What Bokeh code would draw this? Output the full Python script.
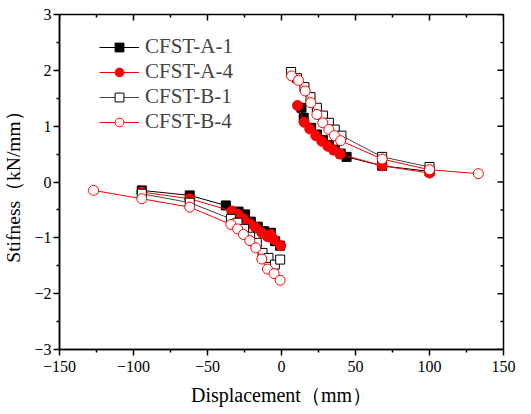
from bokeh.plotting import figure
from bokeh.models import Legend, LegendItem, Range1d, FixedTicker
from bokeh.embed import file_html
from bokeh.resources import INLINE

# ---- data ----
a1_neg_x = [-94.4, -62, -37.6, -29, -24.6, -20.7, -16, -11.7, -7.2, -4.3, -1]
a1_neg_y = [-0.15, -0.24, -0.42, -0.53, -0.58, -0.71, -0.80, -0.88, -0.91, -1.06, -1.14]
a1_pos_x = [13.5, 15, 20, 24, 28, 32, 36, 40, 44, 68, 100]
a1_pos_y = [1.33, 1.15, 0.97, 0.85, 0.75, 0.66, 0.58, 0.51, 0.45, 0.29, 0.19]

a4_neg_x = [-94.4, -62, -33.6, -29.3, -25.7, -21.2, -17.4, -13.3, -9.5, -7.2, -5, -0.5]
a4_neg_y = [-0.18, -0.30, -0.52, -0.58, -0.66, -0.75, -0.82, -0.91, -0.98, -0.94, -1.03, -1.14]
a4_pos_x = [10.8, 15.3, 19.1, 23.2, 27.2, 31.3, 35.3, 39.6, 68, 100]
a4_pos_y = [1.37, 1.07, 0.95, 0.83, 0.73, 0.64, 0.57, 0.50, 0.29, 0.16]

b1_neg_x = [-94.4, -62, -34.2, -29.7, -25.3, -21.2, -16.7, -12.8, -8.8, -4.5, -0.9]
b1_neg_y = [-0.21, -0.37, -0.66, -0.73, -0.84, -0.98, -1.09, -1.27, -1.36, -1.48, -1.39]
b1_pos_x = [6.5, 10.5, 15.5, 19.6, 23.9, 28, 32, 36, 40.5, 68, 100]
b1_pos_y = [1.97, 1.86, 1.70, 1.52, 1.33, 1.19, 1.06, 0.94, 0.83, 0.45, 0.27]

b4_neg_x = [-127, -94.4, -62, -34.2, -29.7, -25.7, -21.4, -17.4, -13.3, -9.5, -5, -0.9]
b4_neg_y = [-0.15, -0.30, -0.45, -0.76, -0.84, -0.94, -1.05, -1.18, -1.38, -1.56, -1.64, -1.76]
b4_pos_x = [6.8, 11.5, 16, 19.8, 23.9, 27.9, 32, 35.8, 40, 68, 100, 133]
b4_pos_y = [1.90, 1.82, 1.63, 1.42, 1.21, 1.06, 0.94, 0.83, 0.74, 0.41, 0.22, 0.15]

x_ticks = [-150, -100, -50, 0, 50, 100, 150]
y_ticks = [-3, -2, -1, 0, 1, 2, 3]
x_label = "Displacement（mm）"
y_label = "Stifness（kN/mm）"

FONT = "Liberation Serif"
FW, FH = 444, 335

p = figure(frame_width=FW, frame_height=FH, output_backend="svg", toolbar_location=None,
           x_range=Range1d(x_ticks[0], x_ticks[-1]), y_range=Range1d(y_ticks[0], y_ticks[-1]),
           min_border_left=55, min_border_right=16, min_border_top=14, min_border_bottom=50,
           x_axis_label=x_label, y_axis_label=y_label)
p.grid.visible = False
p.outline_line_color = "black"
p.outline_line_width = 1.5
p.background_fill_color = "white"
p.border_fill_color = "white"


def minors(t):
    return [(a + b) / 2 for a, b in zip(t[:-1], t[1:])]


for ax, ticks in ((p.xaxis[0], x_ticks), (p.yaxis[0], y_ticks)):
    ax.ticker = FixedTicker(ticks=ticks, minor_ticks=minors(ticks))
    ax.axis_line_width = 1.5
    ax.major_tick_line_width = 1.5
    ax.minor_tick_line_width = 1.5
    ax.major_tick_out = 6
    ax.major_tick_in = 0
    ax.minor_tick_out = 3
    ax.minor_tick_in = 0
    ax.major_label_text_font = FONT
    ax.major_label_text_font_size = "16px"
    ax.major_label_text_color = "black"
    ax.major_label_standoff = 2
    ax.axis_label_text_font = FONT
    ax.axis_label_text_font_style = "normal"
    ax.axis_label_text_color = "black"
p.xaxis[0].major_label_standoff = 5
p.xaxis[0].axis_label_text_font_size = "20px"
p.yaxis[0].axis_label_text_font_size = "19.5px"
p.xaxis[0].axis_label_standoff = 9
p.yaxis[0].axis_label_standoff = 7

# inward ticks on the top and right frame edges (mirror of the axis ticks)
dx = (x_ticks[-1] - x_ticks[0]) / FW
dy = (y_ticks[-1] - y_ticks[0]) / FH
for t_list, ln in ((x_ticks, 6), (minors(x_ticks), 3)):
    p.segment(x0=t_list, y0=[y_ticks[-1]] * len(t_list), x1=t_list,
              y1=[y_ticks[-1] - ln * dy] * len(t_list), line_color="black", line_width=1.5)
for t_list, ln in ((y_ticks, 6), (minors(y_ticks), 3)):
    p.segment(x0=[x_ticks[-1]] * len(t_list), y0=t_list, x1=[x_ticks[-1] - ln * dx] * len(t_list),
              y1=t_list, line_color="black", line_width=1.5)

series = [
    ("CFST-A-1", a1_neg_x, a1_neg_y, a1_pos_x, a1_pos_y, "black", "square", "black", "black", 9),
    ("CFST-A-4", a4_neg_x, a4_neg_y, a4_pos_x, a4_pos_y, "red", "circle", "red", "red", 10),
    ("CFST-B-1", b1_neg_x, b1_neg_y, b1_pos_x, b1_pos_y, "#444444", "square", "white", "black", 9),
    ("CFST-B-4", b4_neg_x, b4_neg_y, b4_pos_x, b4_pos_y, "red", "circle", "white", "red", 10),
]

items = []
for name, nx, ny, px_, py_, lc, marker, fc, mlc, size in series:
    l1 = p.line(nx, ny, line_color=lc, line_width=1)
    l2 = p.line(px_, py_, line_color=lc, line_width=1)
    s1 = p.scatter(nx, ny, marker=marker, size=size, fill_color=fc, line_color=mlc, line_width=1)
    s2 = p.scatter(px_, py_, marker=marker, size=size, fill_color=fc, line_color=mlc, line_width=1)
    items.append(LegendItem(label=name, renderers=[l2, s2]))

legend = Legend(items=items, location=(40, 215), padding=0, margin=0, spacing=0,
                glyph_width=40, glyph_height=22, label_height=22, label_standoff=6,
                label_text_font=FONT, label_text_font_size="21px",
                border_line_alpha=0, background_fill_alpha=0)
p.add_layout(legend, "center")

open("out.html", "w").write(file_html(p, INLINE))
